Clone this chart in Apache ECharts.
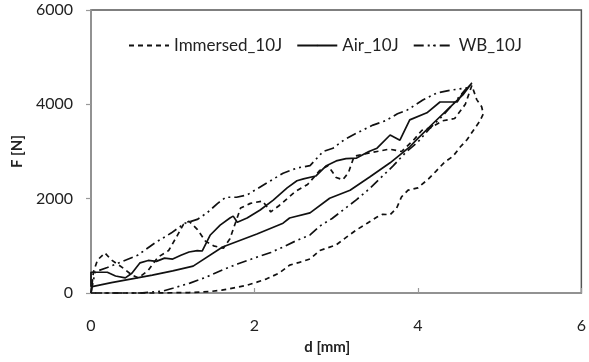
<!DOCTYPE html>
<html>
<head>
<meta charset="utf-8">
<script src="https://cdn.jsdelivr.net/npm/echarts@6/dist/echarts.min.js"></script>
<style>
  html, body { margin: 0; padding: 0; background: #fff; }
  #chart { width: 589px; height: 362px; }
</style>
</head>
<body>
<div id="chart"></div>
<script>
// Force–displacement loops, 10 J impacts: [d (mm), F (N)]
const immersed10J = [
  [0, 0], [0.03, 450], [0.08, 700], [0.17, 850], [0.25, 700], [0.4, 520], [0.5, 380],
  [0.58, 320], [0.7, 480], [0.82, 760], [0.95, 900], [1.05, 1200], [1.13, 1450],
  [1.2, 1520], [1.3, 1350], [1.4, 1100], [1.5, 1000], [1.62, 950], [1.7, 1150],
  [1.77, 1500], [1.83, 1800], [1.95, 1900], [2.1, 1950], [2.2, 1720], [2.3, 1850],
  [2.5, 2150], [2.65, 2300], [2.8, 2600], [2.9, 2700], [3.0, 2450], [3.08, 2400],
  [3.15, 2550], [3.22, 2900], [3.35, 2950], [3.5, 3000], [3.65, 3050], [3.8, 3000],
  [3.95, 3250], [4.05, 3450], [4.15, 3500], [4.3, 3650], [4.45, 3700], [4.58, 4000],
  [4.66, 4400],
  [4.72, 4100], [4.78, 3950], [4.8, 3800], [4.76, 3650], [4.68, 3450], [4.6, 3250],
  [4.52, 3100], [4.43, 2900], [4.33, 2780], [4.22, 2580], [4.13, 2420], [4.0, 2230],
  [3.88, 2180], [3.8, 2040], [3.74, 1800], [3.66, 1660], [3.57, 1670], [3.5, 1610],
  [3.38, 1480], [3.25, 1340], [3.13, 1190], [3.0, 1020], [2.9, 960], [2.8, 900],
  [2.68, 720], [2.55, 650], [2.43, 590], [2.3, 420], [2.15, 300], [2.03, 230],
  [1.9, 160], [1.75, 110], [1.6, 60], [1.45, 30], [1.2, 10], [0.8, 0], [0.3, 0], [0, 0]
];

const air10J = [
  [0, 130], [0, 440], [0.2, 440], [0.3, 360], [0.42, 320], [0.5, 420], [0.6, 640],
  [0.7, 690], [0.8, 670], [0.9, 740], [1.0, 720], [1.1, 800], [1.2, 870], [1.3, 900],
  [1.36, 890], [1.46, 1230], [1.58, 1440], [1.7, 1590], [1.74, 1630], [1.79, 1500],
  [1.91, 1590], [2.07, 1760], [2.23, 1970], [2.4, 2230], [2.52, 2380], [2.6, 2420],
  [2.75, 2480], [2.88, 2700], [3.0, 2800], [3.12, 2850], [3.25, 2860], [3.4, 3000],
  [3.5, 3070], [3.66, 3350], [3.78, 3240], [3.9, 3670], [4.11, 3820], [4.27, 4050],
  [4.48, 4050], [4.55, 4240], [4.66, 4450],
  [4.55, 4200], [4.4, 3950], [4.2, 3620], [4.0, 3280], [3.9, 3100], [3.66, 2760],
  [3.41, 2460], [3.17, 2180], [2.92, 2010], [2.68, 1700], [2.43, 1590], [2.35, 1480],
  [2.03, 1250], [1.61, 975], [1.25, 570], [1.0, 470], [0.75, 380], [0.5, 300],
  [0.25, 220], [0, 130]
];

const wb10J = [
  [0, 0], [0.05, 450], [0.2, 540], [0.37, 660], [0.57, 800], [0.78, 1060], [0.98, 1270],
  [1.15, 1480], [1.3, 1560], [1.42, 1700], [1.55, 1900], [1.65, 2030], [1.78, 2030],
  [1.91, 2080], [2.15, 2330], [2.35, 2540], [2.52, 2650], [2.68, 2700], [2.84, 3000],
  [2.96, 3070], [3.1, 3250], [3.25, 3390], [3.45, 3560], [3.6, 3650], [3.75, 3800],
  [3.87, 3880], [4.06, 4090], [4.23, 4240], [4.4, 4300], [4.6, 4350],
  [4.45, 4050], [4.3, 3750], [4.15, 3500], [4.0, 3200], [3.85, 2980], [3.7, 2700],
  [3.55, 2450], [3.4, 2200], [3.25, 1980], [3.1, 1780], [2.95, 1580], [2.8, 1420],
  [2.68, 1230], [2.5, 1100], [2.35, 975], [2.2, 860], [2.03, 760], [1.8, 620],
  [1.61, 490], [1.4, 330], [1.21, 210], [1.0, 100], [0.88, 40], [0.6, 0], [0.3, 0], [0, 0]
];

const seriesNames = ['Immersed_10J', 'Air_10J', 'WB_10J'];
const xTicks = { min: 0, max: 6, interval: 2 };
const yTicks = { min: 0, max: 6000, interval: 2000 };

const FONT = 'Lato, "Open Sans", sans-serif';
const INK = '#111';

const chart = echarts.init(document.getElementById('chart'), null, { renderer: 'canvas' });

function lineSeries(name, data, dash) {
  return {
    name: name,
    type: 'line',
    data: data,
    symbol: 'none',
    smooth: false,
    clip: false,
    lineStyle: { color: INK, width: 1.7, type: dash },
    itemStyle: { color: INK }
  };
}

chart.setOption({
  animation: false,
  backgroundColor: '#fff',
  grid: {
    left: 91, right: 7.5, top: 10, bottom: 69,
    containLabel: false,
    show: true,
    borderColor: '#555',
    borderWidth: 1.5,
    backgroundColor: 'transparent'
  },
  legend: {
    data: seriesNames,
    left: 123,
    top: 32,
    itemWidth: 40,
    itemHeight: 2,
    itemGap: 14,
    textStyle: { fontFamily: FONT, fontSize: 17, color: '#222' }
  },
  xAxis: {
    type: 'value',
    min: xTicks.min, max: xTicks.max, interval: xTicks.interval,
    name: 'd [mm]',
    nameLocation: 'middle',
    nameGap: 47,
    nameTextStyle: { fontFamily: FONT, fontSize: 15, fontWeight: 'bold', color: '#222', padding: [0, 18, 0, 0] },
    axisLine: { show: true, lineStyle: { color: '#999', width: 1.5 } },
    axisTick: { show: true, inside: true, length: 5, lineStyle: { color: '#999', width: 1.2 } },
    axisLabel: { fontFamily: FONT, fontSize: 16, color: '#222', margin: 25 },
    splitLine: { show: false }
  },
  yAxis: {
    type: 'value',
    min: yTicks.min, max: yTicks.max, interval: yTicks.interval,
    name: 'F [N]',
    nameLocation: 'middle',
    nameGap: 52,
    nameTextStyle: { fontFamily: FONT, fontSize: 15, fontWeight: 'bold', color: '#222' },
    axisLine: { show: true, lineStyle: { color: '#999', width: 1.5 } },
    axisTick: { show: true, inside: false, length: 5, lineStyle: { color: '#999', width: 1.2 } },
    axisLabel: { fontFamily: FONT, fontSize: 16, color: '#222', margin: 18, formatter: v => String(v) },
    splitLine: { show: false }
  },
  series: [
    lineSeries(seriesNames[0], immersed10J, [5, 4]),
    lineSeries(seriesNames[1], air10J, 'solid'),
    lineSeries(seriesNames[2], wb10J, [10, 4, 2, 4, 2, 4])
  ]
});
</script>
</body>
</html>
